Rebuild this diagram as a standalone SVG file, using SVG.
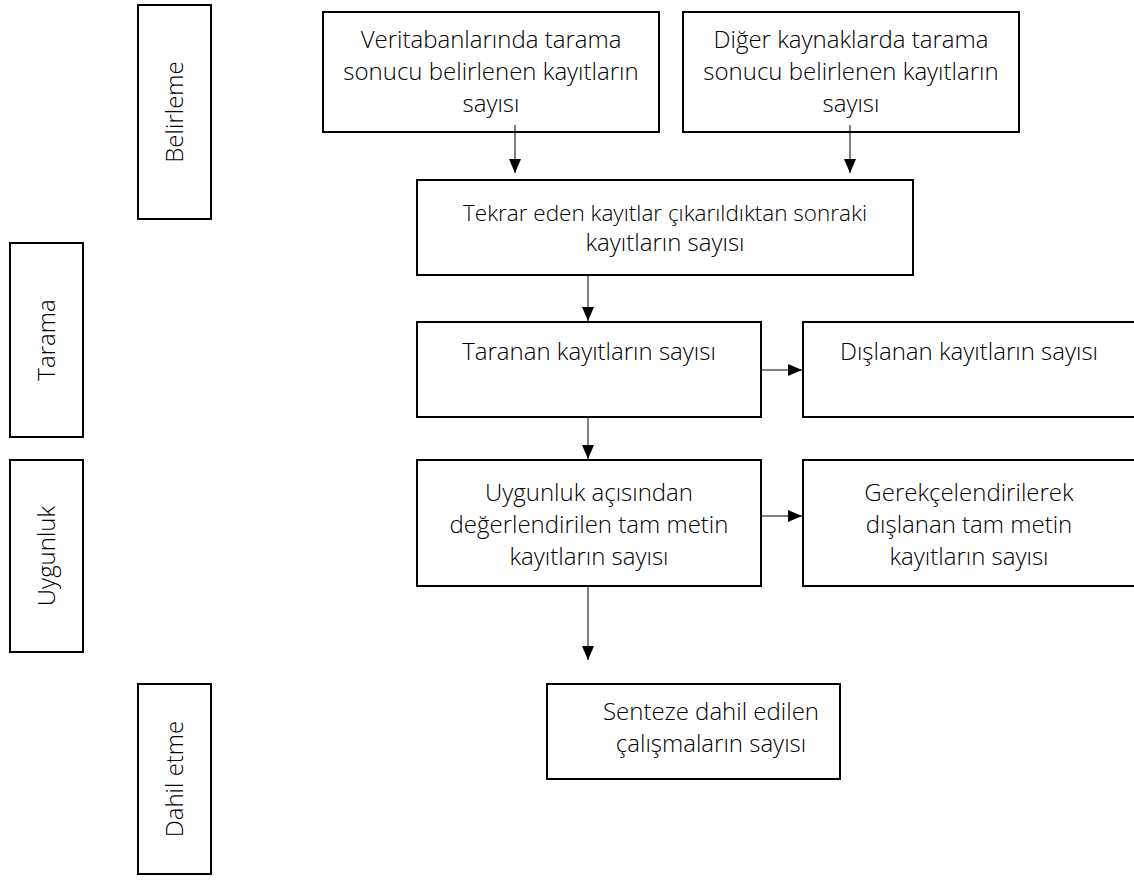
<svg xmlns="http://www.w3.org/2000/svg" width="1134" height="880" viewBox="0 0 1134 880">
<style>
.box{fill:#fff;stroke:#000;stroke-width:2}
.t{font-family:"Open Sans",Lato,sans-serif;font-weight:300;font-size:24px;fill:#000;text-anchor:middle}
.c{stroke:#000;stroke-width:1;fill:none}
</style>
<defs>
<marker id="ah" viewBox="0 0 14 12" refX="14" refY="6" markerWidth="14" markerHeight="12" markerUnits="userSpaceOnUse" orient="auto">
<path d="M0,0 L14,6 L0,12 Z" fill="#000"/>
</marker>
</defs>
<g id="lbl-belirleme"><rect class="box" x="138" y="5" width="73" height="214"/><text class="t" transform="translate(183,112) rotate(-90)">Belirleme</text></g>
<g id="lbl-tarama"><rect class="box" x="10" y="243" width="73" height="194"/><text class="t" transform="translate(55,340) rotate(-90)">Tarama</text></g>
<g id="lbl-uygunluk"><rect class="box" x="10" y="460" width="73" height="192"/><text class="t" transform="translate(55,556) rotate(-90)">Uygunluk</text></g>
<g id="lbl-dahil"><rect class="box" x="138" y="684" width="73" height="190"/><text class="t" transform="translate(183,779) rotate(-90)">Dahil etme</text></g>
<g id="n-veri"><rect class="box" x="323" y="12" width="336" height="120"/><text class="t" x="491" y="48">Veritabanlarında tarama</text><text class="t" x="491" y="80">sonucu belirlenen kayıtların</text><text class="t" x="491" y="112">sayısı</text></g>
<g id="n-diger"><rect class="box" x="683" y="12" width="336" height="120"/><text class="t" x="851" y="48">Diğer kaynaklarda tarama</text><text class="t" x="851" y="80">sonucu belirlenen kayıtların</text><text class="t" x="851" y="112">sayısı</text></g>
<g id="n-tekrar"><rect class="box" x="417" y="180" width="496" height="95"/><text class="t" x="665" y="221" style="font-size:22.5px">Tekrar eden kayıtlar çıkarıldıktan sonraki</text><text class="t" x="665" y="251">kayıtların sayısı</text></g>
<g id="n-taranan"><rect class="box" x="417" y="322" width="344" height="95"/><text class="t" x="589" y="360">Taranan kayıtların sayısı</text></g>
<g id="n-dislanan"><rect class="box" x="803" y="322" width="340" height="95"/><text class="t" x="969" y="360">Dışlanan kayıtların sayısı</text></g>
<g id="n-uygunluk"><rect class="box" x="417" y="460" width="344" height="126"/><text class="t" x="589" y="501">Uygunluk açısından</text><text class="t" x="589" y="533">değerlendirilen tam metin</text><text class="t" x="589" y="565">kayıtların sayısı</text></g>
<g id="n-gerekce"><rect class="box" x="803" y="460" width="340" height="126"/><text class="t" x="969" y="501">Gerekçelendirilerek</text><text class="t" x="969" y="533">dışlanan tam metin</text><text class="t" x="969" y="565">kayıtların sayısı</text></g>
<g id="n-senteze"><rect class="box" x="547" y="684" width="293" height="95"/><text class="t" x="711" y="720">Senteze dahil edilen</text><text class="t" x="711" y="752">çalışmaların sayısı</text></g>
<g id="connectors">
<line class="c" x1="515" y1="125" x2="515" y2="173" marker-end="url(#ah)"/>
<line class="c" x1="850" y1="125" x2="850" y2="173" marker-end="url(#ah)"/>
<line class="c" x1="588" y1="276" x2="588" y2="321" marker-end="url(#ah)"/>
<line class="c" x1="761" y1="370" x2="802" y2="370" marker-end="url(#ah)"/>
<line class="c" x1="588" y1="418" x2="588" y2="459" marker-end="url(#ah)"/>
<line class="c" x1="761" y1="516" x2="802" y2="516" marker-end="url(#ah)"/>
<line class="c" x1="588" y1="587" x2="588" y2="660" marker-end="url(#ah)"/>
</g>
</svg>
